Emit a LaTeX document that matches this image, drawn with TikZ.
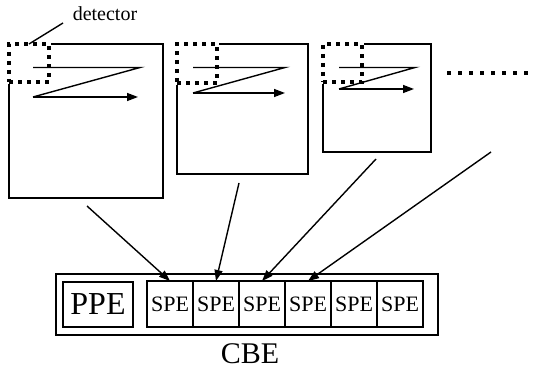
\documentclass[tikz,border=0pt]{standalone}
\usepackage{fontspec}
\setmainfont{Liberation Serif}
\usetikzlibrary{arrows.meta}

\tikzset{
  panel/.style={draw,anchor=north west,inner sep=0pt,outer sep=0pt},
  detbox/.style={panel,line width=4pt,dash pattern=on 4pt off 5pt,
    preaction={draw=white,solid,line width=4pt}},
  pe/.style={draw,inner sep=0pt,outer sep=0pt,minimum width=46pt,minimum height=46pt,
    font=\fontsize{22}{22}\selectfont},
}

\begin{document}
\begin{tikzpicture}[x=1pt,y=-1pt,line width=1.4pt,>={Triangle[length=11pt,width=8pt]}]
  \useasboundingbox (0,0) rectangle (542,369);

  % frames read by the detector
  \node[panel,minimum width=154pt,minimum height=154pt] (p1) at (9,44) {};
  \node[panel,minimum width=131pt,minimum height=130pt] (p2) at (177,44) {};
  \node[panel,minimum width=108pt,minimum height=108pt] (p3) at (323,44) {};

  \node[detbox,minimum width=40pt,minimum height=38pt] (d1) at (9,44) {};
  \node[detbox,minimum width=40pt,minimum height=39pt] (d2) at (177,44) {};
  \node[detbox,minimum width=39pt,minimum height=38pt] (d3) at (323,44) {};

  % scan path
  \draw (33,67.5) -- (140,67.5) -- (33,97);
  \draw[->] (33,97) -- (138,97);
  \draw (193,67.5) -- (285,67.5) -- (193,93);
  \draw[->] (193,93) -- (285,93);
  \draw (339,67.5) -- (415,67.5) -- (339,89);
  \draw[->] (339,89) -- (414,89);

  \draw[line width=4pt,dash pattern=on 4pt off 7pt] (447,73) -- (532,73);

  \node[font=\fontsize{20}{20}\selectfont] (lbl) at (105,14) {detector};
  \coordinate (lead) at (63,23);
  \draw (lead) -- (d1.north);

  % the chip
  \node[draw,inner sep=0pt,outer sep=0pt,minimum width=382pt,minimum height=61pt] (chip) at (247,304.5) {};
  \node[draw,inner sep=0pt,minimum width=70pt,minimum height=45pt,
    font=\fontsize{32}{32}\selectfont] (ppe) at (98,304.5) {PPE};
  \foreach \i in {1,...,6}
    \node[pe] (s\i) at ({147+46*(\i-1)+23},304) {SPE};
  \node[inner sep=0pt,font=\fontsize{30}{30}\selectfont] (cbe) at (250,354) {CBE};

  \coordinate (a1) at (87,206);
  \coordinate (a2) at (239,183);
  \coordinate (a3) at (376,159);
  \coordinate (a4) at (491,152);
  \draw[->] (a1) -- (s1.north);
  \draw[->] (a2) -- (s2.north);
  \draw[->] (a3) -- (s3.north);
  \draw[->] (a4) -- (s4.north);
\end{tikzpicture}
\end{document}
